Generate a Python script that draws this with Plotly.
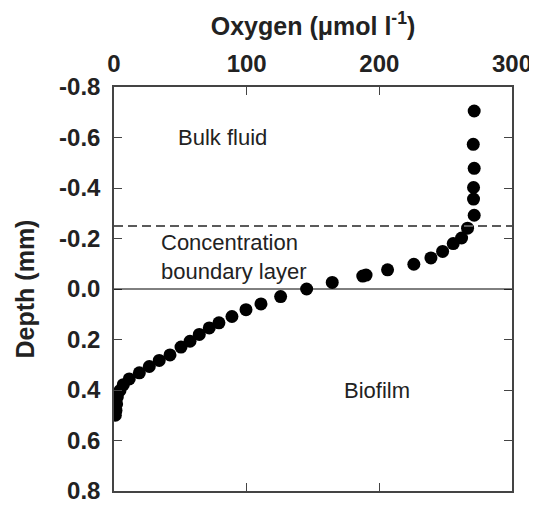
import plotly.graph_objects as go

# Oxygen concentration (umol/l) and depth (mm)
oxygen = [271.5, 270.8, 271.5, 271.0, 271.0, 271.5, 266.5, 262.0, 255.7, 247.7,
          238.9, 226.0, 206.2, 190.0, 187.5, 164.5, 145.2, 125.6, 110.8, 99.5,
          88.9, 79.1, 71.8, 64.3, 57.3, 50.5, 42.2, 34.1, 26.6, 19.1,
          11.5, 7.0, 4.5, 2.5, 2.0, 1.5, 1.0]
depth = [-0.705, -0.573, -0.478, -0.402, -0.356, -0.292, -0.241, -0.202, -0.180, -0.149,
         -0.123, -0.098, -0.076, -0.055, -0.051, -0.026, 0.000, 0.030, 0.059, 0.082,
         0.109, 0.134, 0.154, 0.180, 0.207, 0.230, 0.261, 0.283, 0.307, 0.332,
         0.356, 0.379, 0.402, 0.428, 0.455, 0.481, 0.500]

x_ticks = [0, 100, 200, 300]
y_ticks = [-0.8, -0.6, -0.4, -0.2, 0.0, 0.2, 0.4, 0.6, 0.8]
y_ticktext = ["%.1f" % v for v in y_ticks]
boundary_depth = -0.25
surface_depth = 0.0

FONT = "Liberation Sans, Arial, sans-serif"

fig = go.Figure()
fig.add_trace(go.Scatter(x=oxygen, y=depth, mode="markers",
                         marker=dict(size=13, color="black"), showlegend=False))

fig.add_hline(y=boundary_depth, line=dict(color="#5a5a5a", width=2, dash="9px,5px"))
fig.add_hline(y=surface_depth, line=dict(color="black", width=1))

txt = dict(family=FONT, size=22, color="#222222")
fig.add_annotation(x=82, y=-0.6, text="Bulk fluid", showarrow=False, font=txt)
fig.add_annotation(x=34, y=-0.128, text="Concentration<br>boundary layer", showarrow=False,
                   font=txt, xanchor="left", align="left")
fig.add_annotation(x=198, y=0.4, text="Biofilm", showarrow=False, font=txt)

tickfont = dict(family=FONT, size=24, color="#222", weight="bold")
titlefont = dict(family=FONT, size=25, color="#222", weight="bold")
# page body has an 8px margin, so the figure is offset by 8px
fig.update_layout(
    width=529, height=498,
    margin=dict(l=106, r=25, t=79, b=15),
    plot_bgcolor="white", paper_bgcolor="white",
    font=dict(family=FONT, color="#222"),
    xaxis=dict(side="top", range=[0, 300], tickvals=x_ticks,
               ticks="inside", ticklen=8, tickcolor="#444", showline=True,
               linecolor="#444", linewidth=1.5, mirror="ticks", showgrid=False,
               zeroline=False, ticklabelstandoff=4, automargin=False,
               tickfont=tickfont,
               title=dict(text="Oxygen (μmol l<sup>-1</sup>)", standoff=7, font=titlefont)),
    yaxis=dict(range=[0.8, -0.8], tickvals=y_ticks, ticktext=y_ticktext,
               ticks="inside", ticklen=8, tickcolor="#444", showline=True,
               linecolor="#444", linewidth=1.5, mirror="ticks", showgrid=False,
               zeroline=False, ticklabelstandoff=7, automargin=False,
               tickfont=tickfont,
               title=dict(text="Depth (mm)", standoff=17, font=titlefont)),
)

fig.write_html("out.html")
